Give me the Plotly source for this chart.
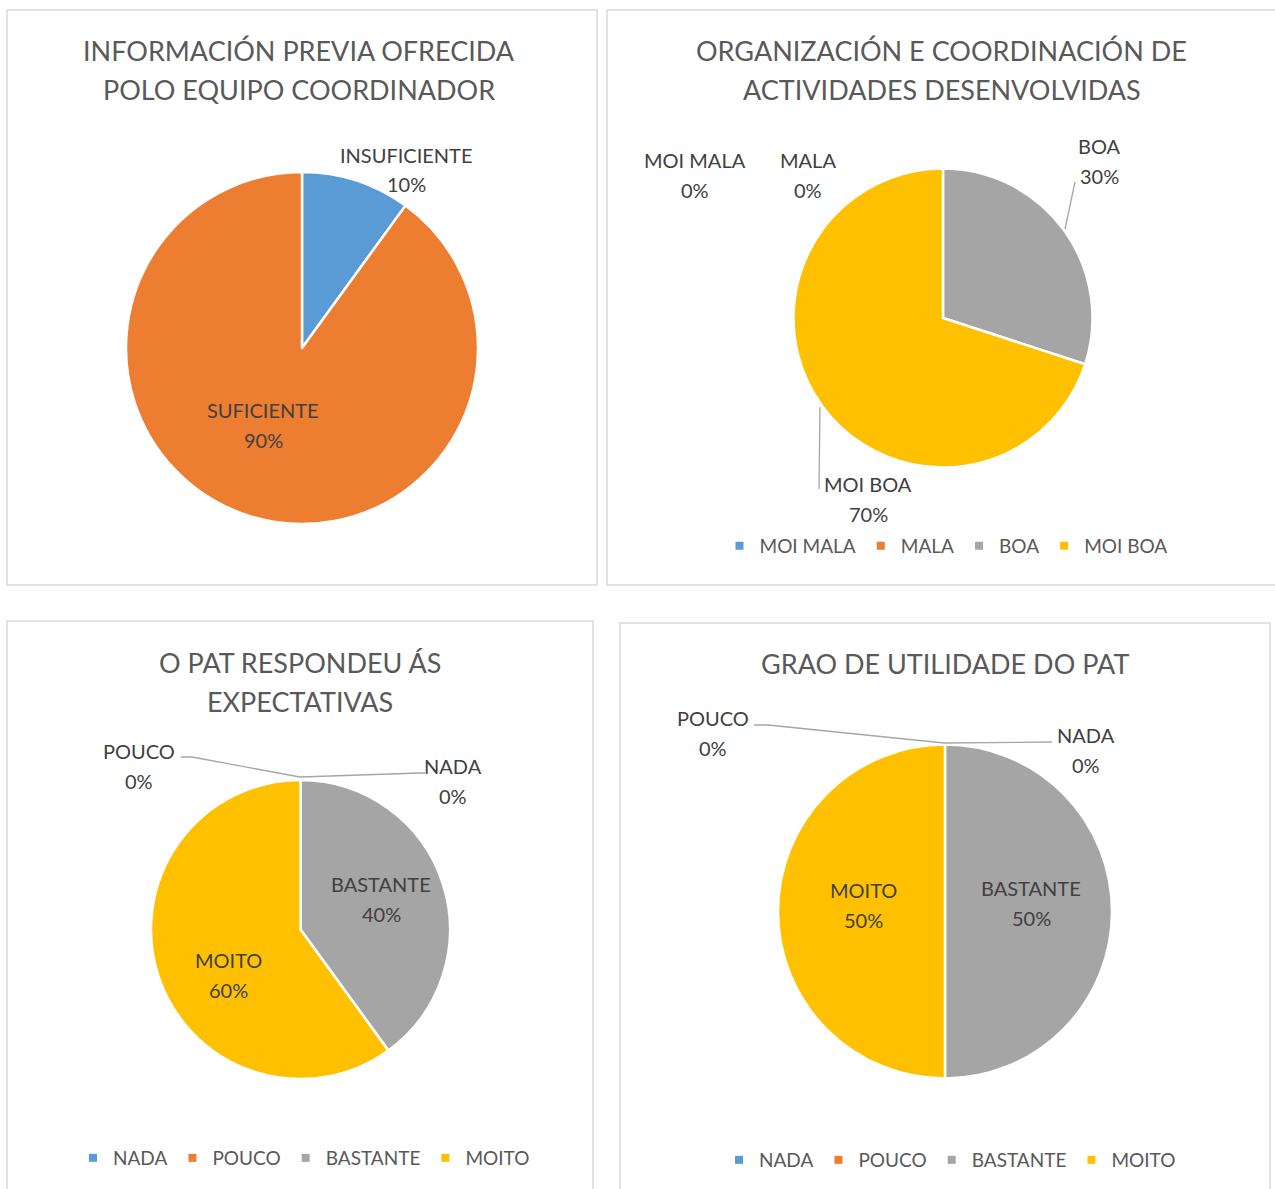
import plotly.graph_objects as go

W, H = 1275, 1189

# ---------------- data ----------------
titles = [
    "INFORMACIÓN PREVIA OFRECIDA<br>POLO EQUIPO COORDINADOR",
    "ORGANIZACIÓN E COORDINACIÓN DE<br>ACTIVIDADES DESENVOLVIDAS",
    "O PAT RESPONDEU ÁS<br>EXPECTATIVAS",
    "GRAO DE UTILIDADE DO PAT",
]
labels_1 = ["INSUFICIENTE", "SUFICIENTE"]
values_1 = [10, 90]
labels_2 = ["MOI MALA", "MALA", "BOA", "MOI BOA"]
values_2 = [0, 0, 30, 70]
labels_3 = ["NADA", "POUCO", "BASTANTE", "MOITO"]
values_3 = [0, 0, 40, 60]
labels_4 = ["NADA", "POUCO", "BASTANTE", "MOITO"]
values_4 = [0, 0, 50, 50]

colors_1 = ["#5B9BD5", "#ED7D31"]
colors_4 = ["#5B9BD5", "#ED7D31", "#A5A5A5", "#FFC000"]

FONT = "Lato"
LABEL_C = "#404040"
TITLE_C = "#595959"


def px(x):
    return x / W


def py(y):
    return 1 - y / H


def dom(cx, cy, r):
    return dict(x=[px(cx - r), px(cx + r)], y=[py(cy + r), py(cy - r)])


# pie layout: (center x, center y, radius) in pixels, legend id
pies = [
    (labels_1, values_1, colors_1, (302, 348, 176), None),
    (labels_2, values_2, colors_4, (943, 318, 149.5), "legend"),
    (labels_3, values_3, colors_4, (300.5, 929.5, 149.5), "legend2"),
    (labels_4, values_4, colors_4, (945, 911.5, 167), "legend3"),
]

fig = go.Figure()
for labs, vals, cols, (cx, cy, r), leg in pies:
    fig.add_trace(go.Pie(
        labels=labs, values=vals, sort=False, direction="clockwise", rotation=0,
        marker=dict(colors=cols, line=dict(color="white", width=2.5)),
        textinfo="none", hoverinfo="label+percent",
        domain=dom(cx, cy, r),
        showlegend=False,
    ))
    # legend entries (one per category) for panels that have a legend
    if leg:
        for lab, col in zip(labs, cols):
            fig.add_trace(go.Scatter(
                x=[None], y=[None], mode="markers", name=lab, legend=leg,
                marker=dict(symbol="square", size=8, color=col),
                showlegend=True, hoverinfo="skip",
            ))

shapes = []
# panel frames
frames = [(7, 10, 597, 585), (607, 10, 1285, 585), (7, 621, 593, 1200), (620, 623, 1270, 1200)]
for x0, y0, x1, y1 in frames:
    shapes.append(dict(type="rect", xref="paper", yref="paper", x0=px(x0), x1=px(x1),
                       y0=py(y1), y1=py(y0), line=dict(color="#D9D9D9", width=1.5)))

# leader lines (label connectors)
leaders = [
    [(1065, 229), (1075, 182)],
    [(820, 407), (819, 489)],
    [(181, 757), (192, 757), (300, 777), (420, 773), (425, 773)],
    [(754, 725), (768, 725), (944, 743), (1052, 742)],
]
for pts in leaders:
    path = "M " + " L ".join(f"{px(x)},{py(y)}" for x, y in pts)
    shapes.append(dict(type="path", xref="paper", yref="paper", path=path,
                       line=dict(color="#A6A6A6", width=1.3)))

annotations = []
# titles (first-line y, line spacing)
title_pos = [(299, 50), (942, 50), (300, 662), (945, 663)]
for t, (x, y) in zip(titles, title_pos):
    for i, line in enumerate(t.split("<br>")):
        annotations.append(dict(text=line, x=px(x), y=py(y + 39 * i), xref="paper", yref="paper",
                                showarrow=False, xanchor="center", yanchor="middle",
                                font=dict(family=FONT, size=27, color=TITLE_C)))

# data label positions (center x, name-line y) per slice
label_pos = [
    [(406, 155), (263, 410)],
    [(695, 160), (808, 160), (1099, 146), (868, 484)],
    [(453, 766), (139, 751), (381, 884), (228, 960)],
    [(1086, 735), (713, 718), (1031, 888), (863, 890)],
]
for (labs, vals, _, _, _), poss in zip(pies, label_pos):
    tot = sum(vals)
    for lab, v, (x, y) in zip(labs, vals, poss):
        for txt, yy in ((lab, y), (f"{round(100 * v / tot)}%", y + 29.5)):
            annotations.append(dict(text=txt, x=px(x), y=py(yy), xref="paper", yref="paper",
                                    showarrow=False, xanchor="center", yanchor="middle",
                                    font=dict(family=FONT, size=20, color=LABEL_C)))

leg_common = dict(orientation="h", xanchor="center", yanchor="middle",
                  font=dict(family=FONT, size=19, color=TITLE_C),
                  bgcolor="rgba(0,0,0,0)", traceorder="normal", itemclick=False)

fig.update_layout(
    width=W, height=H,
    margin=dict(l=0, r=0, t=0, b=0),
    paper_bgcolor="white", plot_bgcolor="white",
    xaxis=dict(visible=False), yaxis=dict(visible=False),
    shapes=shapes, annotations=annotations,
    legend=dict(x=px(946), y=py(546), **leg_common),
    legend2=dict(x=px(304), y=py(1158), **leg_common),
    legend3=dict(x=px(950), y=py(1160), **leg_common),
)

fig.write_html("out.html", config={"displayModeBar": False},
               post_script="document.body.style.margin='0';")
